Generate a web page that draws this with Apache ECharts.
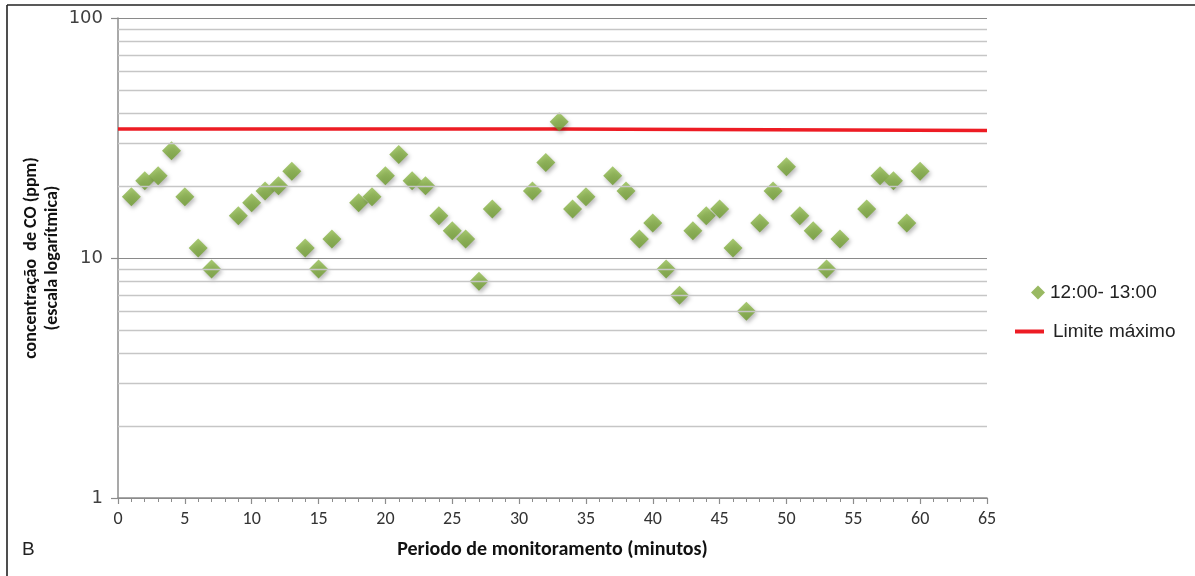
<!DOCTYPE html>
<html>
<head>
<meta charset="utf-8">
<script src="https://cdn.jsdelivr.net/npm/echarts@6/dist/echarts.min.js"></script>
<style>
html,body{margin:0;padding:0;background:#fff;}
#chart{width:1195px;height:576px;}
</style>
</head>
<body>
<div id="chart"></div>
<script>
// Data
const minutes = [1,2,3,4,5,6,7,9,10,11,12,13,14,15,16,18,19,20,21,22,23,24,25,26,27,28,31,32,33,34,35,37,38,39,40,41,42,43,44,45,46,47,48,49,50,51,52,53,54,56,57,58,59,60];
const coPpm   = [18,21,22,28,18,11,9,15,17,19,20,23,11,9,12,17,18,22,27,21,20,15,13,12,8,16,19,25,37,16,18,22,19,12,14,9,7,13,15,16,11,6,14,19,24,15,13,9,12,16,22,21,14,23];
const limitX  = [0, 32.6, 32.6, 65];
const limitY  = [34.5, 34.5, 34.0, 34.0];
const xTicks  = {min:0, max:65, interval:5};
const minorGridValues = [2,3,4,5,6,7,8,9,20,30,40,50,60,70,80,90];
const seriesNames = ['12:00- 13:00', 'Limite máximo'];

const chart = echarts.init(document.getElementById('chart'), null, {renderer:'canvas'});
const narrow = '"Carlito","Lato","Liberation Sans Narrow",sans-serif';
const sans = '"Liberation Sans",Arial,sans-serif';

const option = {
  animation: false,
  backgroundColor: '#fff',
  grid: {left:118, top:18, width:869, height:480, containLabel:false},
  xAxis: {
    type: 'value', min: xTicks.min, max: xTicks.max, interval: xTicks.interval,
    axisLine: {show:true, lineStyle:{color:'#8c8c8c', width:1.5}},
    axisTick: {show:true, length:6, lineStyle:{color:'#8c8c8c', width:1.2}},
    minorTick: {show:true, splitNumber:5, length:4, lineStyle:{color:'#8c8c8c', width:1}},
    splitLine: {show:false},
    axisLabel: {color:'#333', fontFamily:narrow, fontSize:18, margin:12},
    name: 'Periodo de monitoramento (minutos)',
    nameLocation: 'middle', nameGap: 42, nameMoveOverlap: false,
    nameTextStyle: {fontFamily:narrow, fontWeight:'bold', fontSize:20, color:'#111'}
  },
  yAxis: {
    type: 'log', logBase: 10, min: 1, max: 100,
    axisLine: {show:true, lineStyle:{color:'#8c8c8c', width:1.5}},
    axisTick: {show:true, length:7, lineStyle:{color:'#8c8c8c', width:1.2}},
    splitLine: {show:true, lineStyle:{color:'#8a8a8a', width:1.2}},
    axisLabel: {color:'#404040', fontFamily:'"DejaVu Sans",sans-serif', fontSize:18, margin:15},
    name: 'concentração  de CO (ppm)\n(escala logarítmica)',
    nameLocation: 'middle', nameGap: 55, nameRotate: 90, nameMoveOverlap: false,
    nameTextStyle: {fontFamily:narrow, fontWeight:'bold', fontSize:18, color:'#111', lineHeight:21, align:'center'}
  },
  legend: [
    {
      orient:'vertical', left:1026, top:278, itemWidth:14, itemHeight:14, itemGap:10,
      data:[{name:seriesNames[0], icon:'diamond'}],
      textStyle:{fontFamily:sans, fontSize:19, color:'#222'}
    },
    {
      orient:'vertical', left:1010, top:317, itemWidth:29, itemHeight:4, itemGap:10,
      data:[{name:seriesNames[1], icon:'rect'}],
      textStyle:{fontFamily:sans, fontSize:19, color:'#222', padding:[0,0,0,4]}
    }
  ],
  series: [
    {
      name: 'minor-grid', type: 'line', data: [], silent: true, z: 1,
      markLine: {
        silent: true, symbol: ['none','none'], animation:false,
        label: {show:false},
        lineStyle: {color:'#c6c6c6', width:1.3, type:'solid'},
        data: minorGridValues.map(v => ({yAxis: v}))
      }
    },
    {
      name: seriesNames[1], type: 'line', z: 2,
      data: limitX.map((x,i) => [x, limitY[i]]),
      symbol: 'none', showSymbol:false,
      lineStyle: {color:'#ed1c24', width:3.5},
      itemStyle: {color:'#ed1c24'}
    },
    {
      name: seriesNames[0], type: 'scatter', z: 3,
      data: minutes.map((m,i) => [m, coPpm[i]]),
      symbol: 'diamond', symbolSize: 19,
      itemStyle: {
        color: new echarts.graphic.LinearGradient(0,0,0,1,[
          {offset:0, color:'#93bd4f'},
          {offset:1, color:'#6c9a2c'}
        ]),
        shadowBlur: 4, shadowOffsetX: 1.5, shadowOffsetY: 2.5, shadowColor:'rgba(0,0,0,0.35)'
      }
    }
  ],
  graphic: [
    {type:'line', shape:{x1:7, y1:5, x2:1195, y2:5}, style:{stroke:'#222', lineWidth:1.6}, silent:true},
    {type:'line', shape:{x1:7, y1:5, x2:7, y2:576}, style:{stroke:'#222', lineWidth:1.6}, silent:true},
    {type:'text', left:22, top:540, style:{text:'B', fontFamily:sans, fontSize:19, fill:'#222'}, silent:true}
  ]
};
option.legend[0].data[0].itemStyle = {color:'#7fa83b', shadowBlur:0, shadowOffsetX:0, shadowOffsetY:0};
chart.setOption(option);
</script>
</body>
</html>
